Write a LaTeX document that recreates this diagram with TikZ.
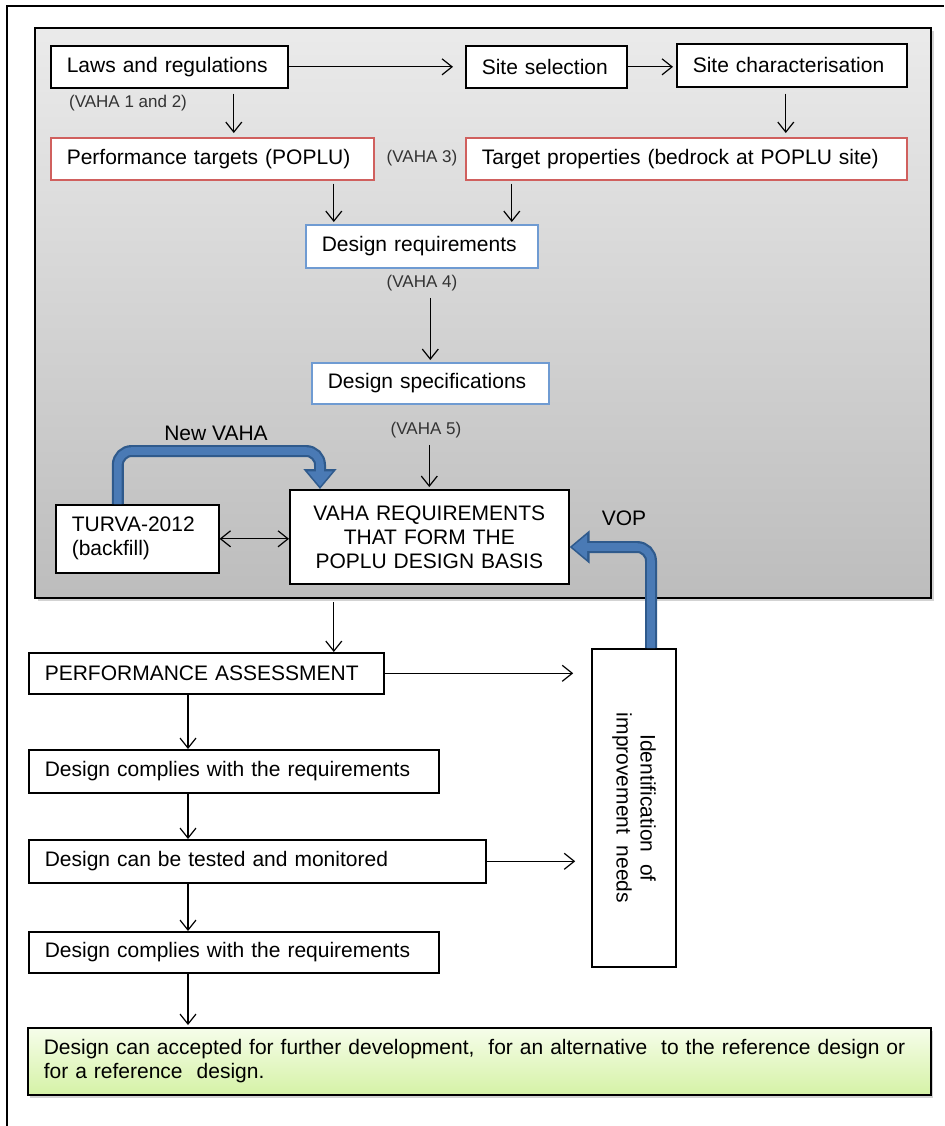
\documentclass[tikz,border=0pt]{standalone}
\usepackage{fontspec}
\setmainfont{Liberation Sans}
\usepackage{tikz}
\usetikzlibrary{shapes, arrows.meta, positioning, shadows}

\definecolor{boxred}{HTML}{D0605E}
\definecolor{boxblue}{HTML}{6F9BD2}
\definecolor{flowblue}{HTML}{4A7AB5}
\definecolor{flowedge}{HTML}{2F5A8C}
\definecolor{greentop}{HTML}{F6FDEA}
\definecolor{greenbot}{HTML}{D5F2A6}
\definecolor{labelgray}{HTML}{333333}

\tikzset{
    stage/.style={draw, line width=0.8pt, fill=white, anchor=north west,
        inner xsep=8pt, inner ysep=0pt, align=left,
        execute at begin node={\hyphenpenalty=10000}},
    vlabel/.style={font=\fontsize{8.5}{10}\selectfont, text=labelgray},
    arr/.style={-{Straight Barb[length=5pt,width=8pt]}, line width=0.6pt},
    flowout/.style={draw=flowedge, line width=6pt, rounded corners=7pt,
        -{Triangle[width=16pt,length=10pt]}, flowedge},
    flowin/.style={draw=flowblue, line width=3.8pt, rounded corners=7pt,
        -{Triangle[width=12pt,length=7.5pt]}, shorten >=1.3pt, flowblue}
}

\begin{document}
\begin{tikzpicture}[x=0.5pt, y=-0.5pt, font=\fontsize{10.5}{12}\selectfont]

\useasboundingbox (0,0) rectangle (944,1126);
\draw[line width=0.8pt] (7,1126) -- (7,6) -- (944,6);

% grey frame of the design basis
\node[draw, line width=1.1pt, anchor=north west,
    minimum width=448pt, minimum height=285pt,
    top color=black!8, bottom color=black!26,
    drop shadow={shadow xshift=1.5pt, shadow yshift=-1.5pt, opacity=0.35}
] (basis) at (34,27) {};

\node[stage, text width=102.5pt, minimum height=21pt] (laws) at (50,45) {Laws and regulations};
\node[stage, text width=64.5pt, minimum height=21pt] (sitesel) at (465,45) {Site selection};
\node[stage, text width=99pt, minimum height=21.5pt] (sitechar) at (676,43) {Site characterisation};

\node[stage, draw=boxred, text width=145.5pt, minimum height=21pt] (perf) at (50,137)
    {Performance targets (POPLU)};
\node[stage, draw=boxred, text width=204.5pt, minimum height=21pt] (targprop) at (465,137)
    {Target properties (bedrock at POPLU site)};

\node[stage, draw=boxblue, text width=100pt, minimum height=21.5pt] (desreq) at (305,224)
    {Design requirements};
\node[stage, draw=boxblue, text width=102.5pt, minimum height=20.5pt] (desspec) at (311,362)
    {Design specifications};

\node[stage, text width=123.5pt, minimum height=47pt, align=center] (vaha) at (289,489)
    {VAHA REQUIREMENTS\\ THAT FORM THE\\ POPLU DESIGN BASIS};
\node[stage, text width=65.5pt, minimum height=34pt] (turva) at (55,504)
    {TURVA-2012\\(backfill)};

\node[stage, text width=161.5pt, minimum height=20.5pt] (pa) at (28,652)
    {PERFORMANCE ASSESSMENT};
\node[stage, text width=189pt, minimum height=21.5pt] (comp1) at (28,749)
    {Design complies with the requirements};
\node[stage, text width=212.5pt, minimum height=21.5pt] (tested) at (28,839)
    {Design can be tested and monitored};
\node[stage, text width=189pt, minimum height=20.5pt] (comp2) at (28,931)
    {Design complies with the requirements};

\node[draw, line width=0.8pt, fill=white, rotate=-90,
    minimum width=159pt, minimum height=42pt, inner sep=0pt, align=center
] (ident) at (634,808) {Identification\ \ of\\improvement\ \ needs};

\node[stage, text width=435.5pt, minimum height=33.5pt,
    top color=greentop, bottom color=greenbot,
    drop shadow={shadow xshift=1pt, shadow yshift=-1.5pt, opacity=0.35}
] (accept) at (27,1027)
    {Design can accepted for further development,\ \ for an alternative\ \ to the reference design or\\
     for a reference\ \ design.};

% labels
\node[vlabel] (v12) at (128,103) {(VAHA 1 and 2)};
\node[vlabel] (v3) at (422,158) {(VAHA 3)};
\node[vlabel] (v4) at (422,283) {(VAHA 4)};
\node[vlabel] (v5) at (426,430) {(VAHA 5)};
\node (newvaha) at (216,433) {New VAHA};
\node (vop) at (624,518) {VOP};

\coordinate (col) at (188,0);
\coordinate (nv) at (320,451);
\coordinate (vp) at (651,547);

% Arrows
\draw[arr, shorten >=6pt] (laws.east) -- (laws.east -| sitesel.west);
\draw[arr, shorten >=1.5pt] (sitesel.east) -- (sitesel.east -| sitechar.west);
\draw[arr, shorten <=2.5pt, shorten >=2pt] ([xshift=32.25pt]laws.south) -- ([xshift=32.25pt]laws.south |- perf.north);
\draw[arr, shorten <=3pt, shorten >=2pt] ([xshift=-3pt]sitechar.south) -- ([xshift=-3pt]sitechar.south |- targprop.north);
\draw[arr, shorten <=1.5pt, shorten >=1pt] ([xshift=60.75pt]perf.south) -- ([xshift=60.75pt]perf.south |- desreq.north);
\draw[arr, shorten <=1.5pt, shorten >=1pt] ([xshift=-87.25pt]targprop.south) -- ([xshift=-87.25pt]targprop.south |- desreq.north);
\draw[arr, shorten >=1pt] (v4.south -| desspec.north) -- (desspec.north);
\draw[arr, shorten >=1pt] (v5.south -| vaha.north) -- (vaha.north);
\draw[{Straight Barb[length=5pt,width=8pt]}-{Straight Barb[length=5pt,width=8pt]}, line width=0.6pt] (turva.east) -- (turva.east -| vaha.west);
\draw[arr, shorten <=1.5pt] ([xshift=63.75pt]pa.north |- basis.south) -- ([xshift=63.75pt]pa.north);
\draw[arr, shorten >=9pt] (pa.east) -- (pa.east -| ident.south);
\draw[arr, shorten >=8pt] (tested.east) -- (tested.east -| ident.south);
\draw[arr] (col |- pa.south) -- (col |- comp1.north);
\draw[arr] (col |- comp1.south) -- (col |- tested.north);
\draw[arr] (col |- tested.south) -- (col |- comp2.north);
\draw[arr, shorten >=1pt] (col |- comp2.south) -- (col |- accept.north);

% blue feedback arrows
\draw[flowout] ([xshift=-9.75pt]turva.north) |- (nv) -- (nv |- vaha.north);
\draw[flowin] ([xshift=-9.75pt]turva.north) |- (nv) -- (nv |- vaha.north);
\draw[flowout] (vp |- ident.west) -- (vp) -- (vp -| vaha.east);
\draw[flowin] (vp |- ident.west) -- (vp) -- (vp -| vaha.east);
\end{tikzpicture}
\end{document}
